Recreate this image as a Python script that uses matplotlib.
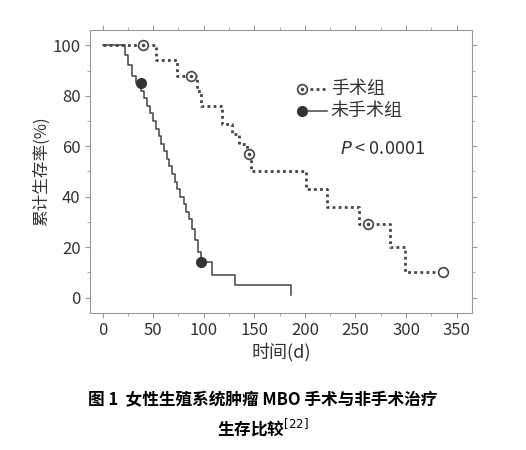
import matplotlib.pyplot as plt
import numpy as np

plt.rcParams['font.family'] = ['Noto Sans CJK SC', 'DejaVu Sans']

# surgery group: step times (days) and survival (%)
op_t = [0, 53, 74, 93, 97, 118, 128, 135, 143, 147, 201, 222, 253, 284, 299, 339]
op_s = [100, 94, 88, 82, 76, 69, 65, 61, 57, 50, 43, 36, 29, 20, 10, 10]
op_cens_t = [40, 87, 145, 262, 337]
op_cens_s = [100, 88, 57, 29, 10]

# non-surgery group
no_t = [0, 22, 25, 29, 33, 38, 41, 44, 47, 50, 53, 56, 58, 61, 64, 66, 69, 72, 74, 77,
        80, 82, 85, 88, 91, 94, 97, 108, 131, 183, 186]
no_s = [100, 96, 92, 88, 85, 82, 79, 76, 73, 70, 67, 64, 61, 58, 55, 52, 49, 46, 43, 40,
        37, 34, 31, 27, 23, 18, 14, 9, 5, 5, 1]
no_cens_t = [38, 97]
no_cens_s = [85, 14]

fig = plt.figure(figsize=(5.26, 4.5), dpi=100)
ax = fig.add_axes([0.172, 0.305, 0.725, 0.628])

ax.step(op_t, op_s, where='post', color='#444444', ls=(0, (1, 1.2)), lw=2)
ax.step(no_t, no_s, where='post', color='#444444', lw=1.1)
ax.plot(op_cens_t, op_cens_s, 'o', ms=7, mfc='white', mec='#444444', mew=1.2)
ax.plot(op_cens_t[:-1], op_cens_s[:-1], '.', ms=3, color='#444444')
ax.plot(no_cens_t, no_cens_s, 'o', ms=7, color='#333333')

ax.plot([0.555], [0.79], 'o', ms=7, mfc='white', mec='#444444', mew=1.2, transform=ax.transAxes)
ax.plot([0.555], [0.79], '.', ms=3, color='#444444', transform=ax.transAxes)
ax.plot([0.575, 0.62], [0.79, 0.79], color='#444444', ls=(0, (1, 1.2)), lw=2, transform=ax.transAxes)
ax.plot([0.555], [0.715], 'o', ms=7, color='#333333', transform=ax.transAxes)
ax.plot([0.57, 0.62], [0.715, 0.715], color='#444444', lw=1.1, transform=ax.transAxes)
ax.text(0.63, 0.79, '手术组', fontsize=13, va='center', color='#333333', transform=ax.transAxes)
ax.text(0.63, 0.715, '未手术组', fontsize=13, va='center', color='#333333', transform=ax.transAxes)
ax.text(0.655, 0.58, '$P$ < 0.0001', fontsize=13, va='center', color='#333333', transform=ax.transAxes)

ax.set_xlim(-12, 365)
ax.set_ylim(-6, 106)
ax.set_xticks(np.arange(0, 351, 50))
ax.set_yticks(np.arange(0, 101, 20))
ax.set_xticks(np.arange(0, 351, 25), minor=True)
ax.set_yticks(np.arange(0, 101, 10), minor=True)
ax.tick_params(which='both', direction='out', top=True, right=True, labelsize=12, colors='#333333')
ax.tick_params(which='both', color='#999999')
for sp in ax.spines.values():
    sp.set_color('#999999')
ax.set_xlabel('时间(d)', fontsize=13, color='#333333', labelpad=2)
ax.set_ylabel('累计生存率(%)', fontsize=12, color='#333333', labelpad=2)

fig.text(0.5, 0.1, '图 1  女性生殖系统肿瘤 MBO 手术与非手术治疗', ha='center', fontsize=12, weight='bold')
fig.text(0.5, 0.035, '生存比较$^{[22]}$', ha='center', fontsize=12, weight='bold')

fig.savefig('out.png', dpi=100)
